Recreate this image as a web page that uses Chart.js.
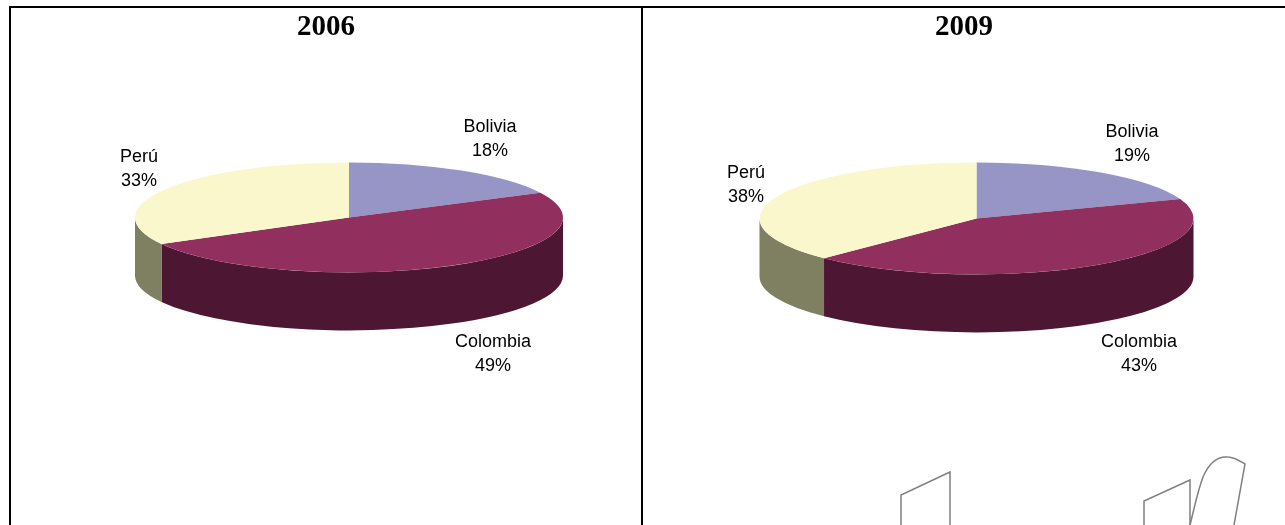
<!DOCTYPE html>
<html>
<head>
<meta charset="utf-8">
<style>
html,body{margin:0;padding:0;background:#fff;width:1285px;height:525px;overflow:hidden}
#stage{position:relative;width:1285px;height:525px}
.cell{position:absolute;top:8px;height:517px}
#c1{left:11px;width:630px}
#c2{left:643px;width:642px}
.rule{position:absolute;background:#000}
svg{position:absolute;left:0;top:0}
</style>
<script src="https://cdn.jsdelivr.net/npm/chart.js@4/dist/chart.umd.min.js"></script>
</head>
<body>
<div id="stage">
  <div class="rule" style="left:9px;top:6px;width:1276px;height:2px"></div>
  <div class="rule" style="left:9px;top:6px;width:2px;height:519px"></div>
  <div class="rule" style="left:641px;top:6px;width:2px;height:519px"></div>
  <div class="cell" id="c1"><canvas id="pie2006"></canvas></div>
  <div class="cell" id="c2"><canvas id="pie2009"></canvas></div>
  <svg width="1285" height="525" fill="none" stroke="#808080" stroke-width="1.5">
    <path d="M901 525V495L950 472V525"/>
    <path d="M1144 525V501L1190 480V525"/>
    <path d="M1190 525C1195 505 1198 490 1203 477C1209 463 1218 456 1228 457C1234 457 1240 461 1245 464L1234 525"/>
  </svg>
</div>
<script>
const categories = ['Bolivia', 'Colombia', 'Perú'];
const values2006 = [17.6, 49.4, 33.0];
const values2009 = [19.4, 43.0, 37.6];
const topColors = ['#9794C6', '#91305F', '#FBF7CC'];
const sideColors = ['#4B4A63', '#4D1733', '#7F7F62'];

const DEPTH = 58;
const labelFont = '18px "Liberation Sans", Arial, sans-serif';

function tilt3d(depth, squash, shiftX) {
  return {
    id: 'tilt3d',
    beforeDatasetsDraw(chart) {
      const ctx = chart.ctx;
      const arcs = chart.getDatasetMeta(0).data;
      arcs.forEach((arc, i) => {
        const a0 = Math.max(arc.startAngle, 0);
        const a1 = Math.min(arc.endAngle, Math.PI);
        if (a1 <= a0) return;
        const rx = arc.outerRadius, ry = rx * squash;
        ctx.save();
        ctx.fillStyle = sideColors[i];
        ctx.beginPath();
        ctx.ellipse(arc.x + shiftX, arc.y, rx, ry, 0, a0, a1);
        ctx.ellipse(arc.x + shiftX, arc.y + depth, rx, ry, 0, a1, a0, true);
        ctx.closePath();
        ctx.fill();
        ctx.restore();
      });
      const c = arcs[0];
      ctx.save();
      ctx.translate(shiftX, c.y);
      ctx.scale(1, squash);
      ctx.translate(0, -c.y);
    },
    afterDatasetsDraw(chart) {
      chart.ctx.restore();
    }
  };
}

const sliceLabels = {
  id: 'sliceLabels',
  afterDraw(chart, args, opts) {
    const ctx = chart.ctx;
    const data = chart.data.datasets[0].data;
    ctx.save();
    ctx.font = labelFont;
    ctx.fillStyle = '#000';
    ctx.textAlign = 'center';
    ctx.textBaseline = 'middle';
    chart.data.labels.forEach((name, i) => {
      const p = opts.positions[i];
      ctx.fillText(name, p[0], p[1]);
      ctx.fillText(Math.round(data[i]) + '%', p[0], p[1] + 24);
    });
    ctx.restore();
  }
};

function makePie(id, year, values, radius, padBottom, shiftX, squash, positions) {
  new Chart(document.getElementById(id), {
    type: 'pie',
    data: {
      labels: categories,
      datasets: [{
        data: values,
        backgroundColor: topColors,
        borderWidth: 0,
        radius: radius
      }]
    },
    options: {
      responsive: true,
      maintainAspectRatio: false,
      animation: false,
      layout: { padding: { bottom: padBottom } },
      plugins: {
        legend: { display: false },
        tooltip: { enabled: false },
        title: {
          display: true,
          text: year,
          color: '#000',
          font: { family: '"Liberation Serif", "Times New Roman", serif', size: 29, weight: 'bold' },
          padding: { top: 2, bottom: 0 }
        },
        sliceLabels: { positions: positions }
      }
    },
    plugins: [tilt3d(DEPTH, squash, shiftX), sliceLabels]
  });
}

/* label anchors are relative to each canvas */
makePie('pie2006', '2006', values2006, 214, 135, 23, 55 / 214,
  [[479, 119], [482, 334], [128, 149]]);
makePie('pie2009', '2009', values2009, 217, 133, 12.5, 56 / 217,
  [[489, 124], [496, 334], [103, 165]]);
</script>
</body>
</html>
